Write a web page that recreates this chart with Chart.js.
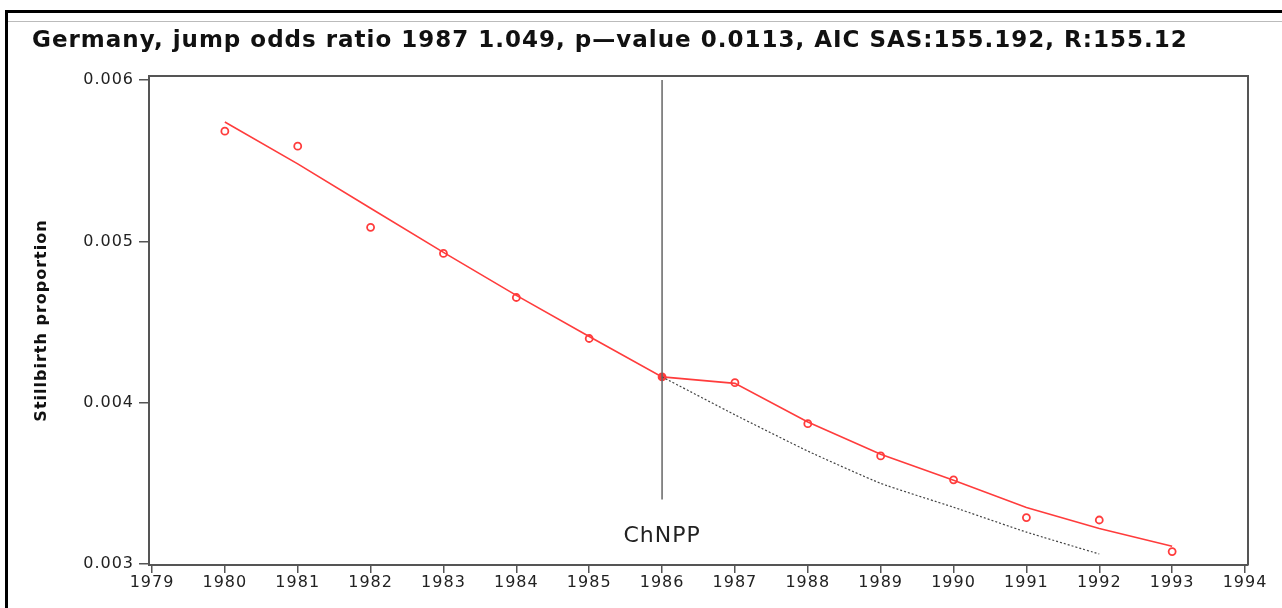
<!DOCTYPE html>
<html lang="en">
<head>
<meta charset="UTF-8" />
<title>Germany stillbirth proportion</title>
<script src="https://cdn.jsdelivr.net/npm/chart.js"></script>
<style>
  html, body { margin: 0; padding: 0; background: #fff; }
  #wrap { width: 1282px; height: 608px; }
</style>
</head>
<body>
<div id="wrap"><canvas id="stillbirthChart" width="1282" height="608"></canvas></div>

<script>
  // observed stillbirth proportions
  const years = [1980, 1981, 1982, 1983, 1984, 1985, 1986, 1987, 1988, 1989, 1990, 1991, 1992, 1993];
  const observed = [0.005683, 0.00559, 0.005087, 0.004925, 0.004652, 0.004398, 0.00416, 0.004124, 0.00387, 0.00367, 0.003522, 0.003288, 0.003273, 0.003077];

  // fitted model (with jump after 1986)
  const fitted = [0.00574, 0.00548, 0.005205, 0.004932, 0.004665, 0.00441, 0.00416, 0.00412, 0.00388, 0.00368, 0.00352, 0.00335, 0.00322, 0.00311];

  // counterfactual trend without jump
  const trendYears = [1986, 1987, 1988, 1989, 1990, 1991, 1992];
  const trend = [0.00416, 0.003925, 0.0037, 0.0035, 0.003352, 0.003198, 0.003062];

  // ChNPP marker line
  const markerYears = [1986, 1986];
  const markerValues = [0.006, 0.0034];

  const xTicks = [1979, 1980, 1981, 1982, 1983, 1984, 1985, 1986, 1987, 1988, 1989, 1990, 1991, 1992, 1993, 1994];
  const yTicks = [0.003, 0.004, 0.005, 0.006];

  const notes = [{ text: 'ChNPP', x: 1986, y: 0.00317 }];

  const red = 'rgb(255, 60, 60)';
  const pts = (xs, ys) => xs.map((x, i) => ({ x: x, y: ys[i] }));

  // the original font is set wide, so space the letters a bit
  const spacing = {
    id: 'spacing',
    beforeUpdate(chart) { chart.ctx.letterSpacing = '1px'; },
    beforeDraw(chart) { chart.ctx.letterSpacing = '1px'; }
  };

  const framePlugin = {
    id: 'frame',
    beforeDraw(chart) {
      const c = chart.ctx;
      c.save();
      c.fillStyle = '#fff';
      c.fillRect(0, 0, chart.width, chart.height);
      c.fillStyle = '#000';
      c.fillRect(5, 10, chart.width - 5, 3);
      c.fillRect(5, 10, 3, chart.height - 10);
      c.fillStyle = '#bbb';
      c.fillRect(8, 21, chart.width - 8, 1);
      c.restore();
    },
    afterDatasetsDraw(chart) {
      const a = chart.chartArea;
      const c = chart.ctx;
      c.save();
      c.strokeStyle = '#555';
      c.lineWidth = 2;
      c.beginPath();
      c.moveTo(a.left, a.top);
      c.lineTo(a.right, a.top);
      c.lineTo(a.right, a.bottom);
      c.stroke();
      // text notes
      c.fillStyle = '#222';
      c.font = '22px "DejaVu Sans"';
      c.textAlign = 'center';
      c.textBaseline = 'middle';
      notes.forEach(n => {
        c.fillText(n.text, chart.scales.x.getPixelForValue(n.x), chart.scales.y.getPixelForValue(n.y));
      });
      c.restore();
    }
  };

  new Chart(document.getElementById('stillbirthChart'), {
    type: 'scatter',
    data: {
      datasets: [
        {
          type: 'line',
          data: pts(markerYears, markerValues),
          borderColor: '#666',
          borderWidth: 1.5,
          pointRadius: 0
        },
        {
          type: 'line',
          data: pts(trendYears, trend),
          borderColor: '#444',
          borderWidth: 1.2,
          borderDash: [2, 2],
          pointRadius: 0,
          tension: 0.15
        },
        {
          type: 'line',
          data: pts(years, fitted),
          borderColor: red,
          borderWidth: 1.6,
          pointRadius: 0,
          tension: 0
        },
        {
          data: pts(years, observed),
          borderColor: red,
          borderWidth: 1.8,
          pointRadius: 3.5,
          pointBackgroundColor: ctx => (ctx.raw && ctx.raw.x === 1986 ? red : 'rgba(255,255,255,0)')
        }
      ]
    },
    options: {
      responsive: false,
      animation: false,
      layout: { padding: { left: 32, right: 34, top: 0, bottom: 0 } },
      plugins: {
        legend: { display: false },
        tooltip: { enabled: false },
        title: {
          display: true,
          text: 'Germany, jump odds ratio 1987 1.049, p\u2014value 0.0113, AIC SAS:155.192, R:155.12',
          align: 'start',
          color: '#111',
          font: { family: 'DejaVu Sans', size: 23, weight: 'bold' },
          padding: { top: 27, bottom: 21.4 }
        }
      },
      scales: {
        x: {
          type: 'linear',
          min: 1978.959,
          max: 1994.041,
          afterBuildTicks: s => { s.ticks = xTicks.map(v => ({ value: v })); },
          afterFit: s => { s.height = 43; },
          ticks: {
            color: '#222',
            font: { family: 'DejaVu Sans', size: 16 },
            padding: 0,
            maxRotation: 0,
            callback: v => String(v)
          },
          grid: { drawOnChartArea: false, drawTicks: true, tickLength: 8, color: '#555', lineWidth: 1.5 },
          border: { display: true, color: '#555', width: 2 }
        },
        y: {
          min: 0.002994,
          max: 0.006025,
          afterBuildTicks: s => { s.ticks = yTicks.map(v => ({ value: v })); },
          afterFit: s => { s.width = 117; },
          ticks: {
            color: '#222',
            font: { family: 'DejaVu Sans', size: 16 },
            padding: 5,
            callback: v => v.toFixed(3)
          },
          grid: { drawOnChartArea: false, drawTicks: true, tickLength: 10, color: '#555', lineWidth: 1.5 },
          border: { display: true, color: '#555', width: 2 },
          title: {
            display: true,
            text: 'Stillbirth proportion',
            color: '#111',
            font: { family: 'DejaVu Sans', size: 16, weight: 'bold' },
            padding: 0
          }
        }
      }
    },
    plugins: [spacing, framePlugin]
  });
</script>
</body>
</html>
